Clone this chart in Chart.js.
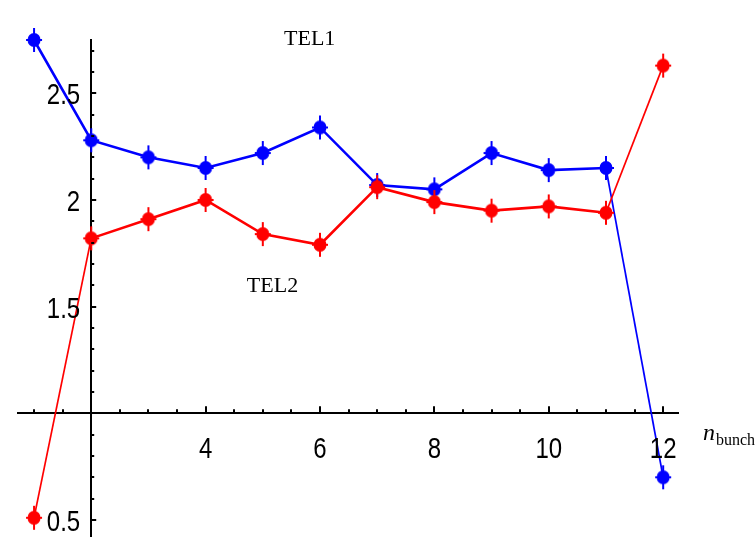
<!DOCTYPE html>
<html>
<head>
<meta charset="utf-8">
<script src="https://cdn.jsdelivr.net/npm/chart.js@4/dist/chart.umd.min.js"></script>
<style>
  html, body { margin: 0; padding: 0; background: #fff; }
  #wrap { width: 756px; height: 537px; }
</style>
</head>
<body>
<div id="wrap"><canvas id="plot" width="756" height="537"></canvas></div>
<script>
// bunch number and the two telescope values
const nBunch = [1, 2, 3, 4, 5, 6, 7, 8, 9, 10, 11, 12];
const tel1 = [2.75, 2.28, 2.20, 2.15, 2.22, 2.34, 2.07, 2.05, 2.22, 2.14, 2.15, 0.70];
const tel2 = [0.51, 1.82, 1.91, 2.00, 1.84, 1.79, 2.06, 1.99, 1.95, 1.97, 1.94, 2.63];

const xTicks = [2, 4, 6, 8, 10, 12];
const yTicks = [0.5, 1, 1.5, 2, 2.5];

const tickFont = "30px 'Liberation Sans', Arial, sans-serif";

// blob with thin spikes, like the old plot markers
function makeMarker(color) {
  const c = document.createElement("canvas");
  c.width = 20;
  c.height = 26;
  const g = c.getContext("2d");
  g.fillStyle = color;
  g.beginPath();
  g.ellipse(10, 13, 6.5, 7, 0, 0, Math.PI * 2);
  g.fill();
  g.fillRect(9, 1, 2, 24);
  g.fillRect(2, 12, 16, 2);
  return c;
}

// narrow text: squeeze horizontally
function narrowText(ctx, text, x, y, align) {
  const sx = 0.8;
  const w = ctx.measureText(text).width * sx;
  let left = x;
  if (align === "center") left = x - w / 2;
  if (align === "right") left = x - w;
  ctx.save();
  ctx.translate(left, y);
  ctx.scale(sx, 1);
  ctx.textAlign = "left";
  ctx.fillText(text, 0, 0);
  ctx.restore();
}

// inside tick marks, tick labels, curve names and the axis label
const axisDecor = {
  id: "axisDecor",
  afterDatasetsDraw(chart) {
    const ctx = chart.ctx;
    const xs = chart.scales.x;
    const ys = chart.scales.y;
    const x0 = xs.getPixelForValue(2);
    const y0 = ys.getPixelForValue(1);
    ctx.save();
    ctx.strokeStyle = "#000";
    ctx.lineWidth = 2;
    ctx.beginPath();
    for (let v = 1; v <= xs.max + 1e-9; v += 0.5) {
      if (v === 2) continue;
      const px = Math.round(xs.getPixelForValue(v));
      const len = v % 2 === 0 ? 7 : 4;
      ctx.moveTo(px, y0);
      ctx.lineTo(px, y0 - len);
    }
    for (let k = 5; k <= 27; k++) {
      const v = k / 10;
      if (v < ys.min || v > ys.max || k === 10) continue;
      const py = Math.round(ys.getPixelForValue(v));
      const len = k % 5 === 0 ? 5 : 3;
      ctx.moveTo(x0, py);
      ctx.lineTo(x0 + len, py);
    }
    ctx.stroke();

    ctx.fillStyle = "#000";
    ctx.font = tickFont;
    ctx.textBaseline = "alphabetic";
    xs.ticks.forEach((t) => {
      if (!t.label) return;
      narrowText(ctx, t.label, xs.getPixelForValue(t.value), y0 + 45, "center");
    });
    ys.ticks.forEach((t) => {
      if (!t.label) return;
      narrowText(ctx, t.label, x0 - 11, ys.getPixelForValue(t.value) + 11, "right");
    });

    ctx.textAlign = "center";
    ctx.font = "22px 'Liberation Serif', 'Times New Roman', serif";
    ctx.fillText("TEL1", xs.getPixelForValue(5.82), ys.getPixelForValue(2.727));
    ctx.fillText("TEL2", xs.getPixelForValue(5.17), ys.getPixelForValue(1.57));

    // axis label n_bunch
    const lx = chart.chartArea.right + 25;
    const ly = y0 + 27;
    ctx.textAlign = "left";
    ctx.font = "italic 24px 'Liberation Serif', 'Times New Roman', serif";
    ctx.fillText("n", lx, ly);
    const w = ctx.measureText("n").width;
    ctx.font = "16px 'Liberation Serif', 'Times New Roman', serif";
    ctx.fillText("bunch", lx + w + 1, ly + 5);
    ctx.restore();
  }
};

// steep segments come out thinner than the flat ones
const segWidth = (c) => (Math.abs(c.p1.parsed.y - c.p0.parsed.y) > 0.5 ? 1.7 : 2.6);

new Chart(document.getElementById("plot"), {
  type: "line",
  data: {
    datasets: [
      {
        label: "TEL1",
        data: nBunch.map((n, i) => ({ x: n, y: tel1[i] })),
        borderColor: "#0000ff",
        pointStyle: makeMarker("#0000ff"),
        borderWidth: 2.6,
        segment: { borderWidth: segWidth },
        order: 1,
        clip: false
      },
      {
        label: "TEL2",
        data: nBunch.map((n, i) => ({ x: n, y: tel2[i] })),
        borderColor: "#ff0000",
        pointStyle: makeMarker("#ff0000"),
        borderWidth: 2.6,
        segment: { borderWidth: segWidth },
        order: 0,
        clip: false
      }
    ]
  },
  options: {
    responsive: false,
    animation: false,
    layout: { autoPadding: false, padding: { left: 18, right: 78, top: 40, bottom: 0 } },
    plugins: { legend: { display: false }, tooltip: { enabled: false } },
    elements: { line: { tension: 0 } },
    scales: {
      x: {
        type: "linear",
        min: 0.72,
        max: 12.26,
        position: { y: 1 },
        afterBuildTicks: (s) => { s.ticks = xTicks.map((v) => ({ value: v })); },
        afterFit: (s) => { s.height = 0; s.paddingLeft = 0; s.paddingRight = 0; },
        grid: { drawOnChartArea: false, drawTicks: false },
        border: { display: true, color: "#000", width: 2 },
        ticks: {
          display: false,
          autoSkip: false,
          callback: (v) => (v === 2 ? "" : String(v))
        }
      },
      y: {
        type: "linear",
        min: 0.42,
        max: 2.75,
        position: { x: 2 },
        afterBuildTicks: (s) => { s.ticks = yTicks.map((v) => ({ value: v })); },
        afterFit: (s) => { s.width = 0; s.paddingTop = 0; s.paddingBottom = 0; },
        grid: { drawOnChartArea: false, drawTicks: false },
        border: { display: true, color: "#000", width: 2 },
        ticks: {
          display: false,
          callback: (v) => (v === 1 ? "" : String(v))
        }
      }
    }
  },
  plugins: [axisDecor]
});
</script>
</body>
</html>
